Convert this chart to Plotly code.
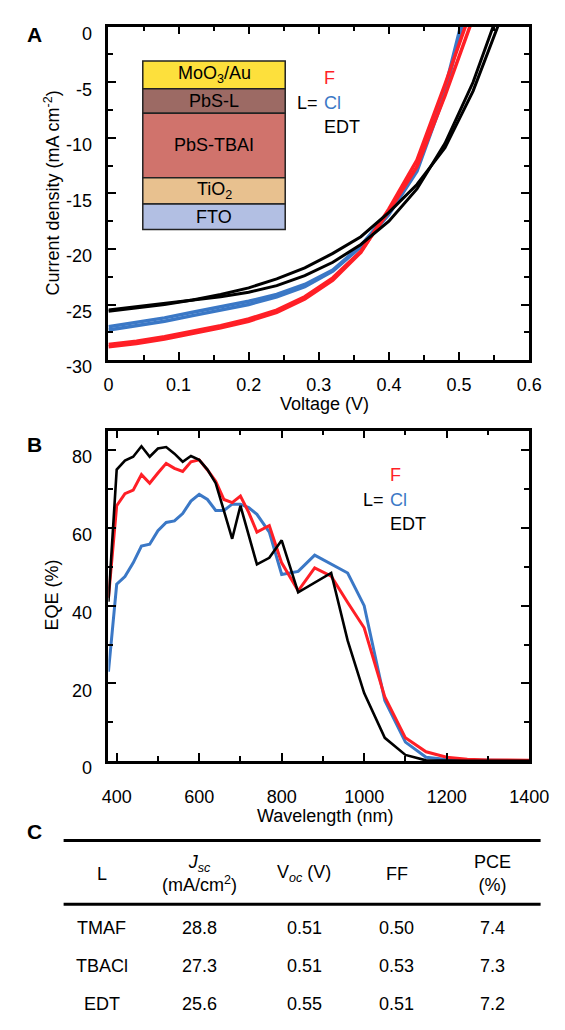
import plotly.graph_objects as go

W, H = 565, 1030
def px(x): return x / W
def py(y): return 1 - y / H

RED = "#FF1F26"
BLUE = "#3B78C6"
BLACK = "#000000"
FONT = "Liberation Sans"

# ---------------- Panel A: J-V curves ----------------
VOLT = [0.00, 0.04, 0.08, 0.12, 0.16, 0.20, 0.24, 0.28, 0.32, 0.36, 0.40, 0.44, 0.48, 0.52, 0.56]
J_F1 = [-28.8, -28.5, -28.1, -27.6, -27.1, -26.5, -25.7, -24.5, -22.8, -20.3, -16.4, -12.0, -5.2, 2.0]
J_F2 = [-28.6, -28.3, -27.9, -27.4, -26.9, -26.3, -25.5, -24.3, -22.6, -20.2, -16.6, -12.6, -6.2, 0.8]
J_CL1 = [-27.3, -26.9, -26.5, -26.0, -25.5, -25.0, -24.3, -23.4, -22.0, -19.8, -16.9, -13.0, -6.0, 4.0]
J_CL2 = [-27.0, -26.6, -26.2, -25.7, -25.2, -24.7, -24.1, -23.2, -21.9, -19.7, -16.7, -12.7, -5.6, 4.5]
J_EDT1 = [-25.6, -25.3, -25.0, -24.6, -24.1, -23.5, -22.7, -21.7, -20.4, -18.9, -16.7, -14.2, -10.9, -5.8, 0.8]
J_EDT2 = [-25.5, -25.2, -24.9, -24.6, -24.3, -23.9, -23.3, -22.4, -21.2, -19.6, -17.5, -14.6, -10.5, -5.0, 2.0]

A_X_TICKS = [0, 0.1, 0.2, 0.3, 0.4, 0.5, 0.6]
A_X_LABELS = ["0", "0.1", "0.2", "0.3", "0.4", "0.5", "0.6"]
A_X_MINOR = [0.05, 0.15, 0.25, 0.35, 0.45, 0.55]
A_Y_TICKS = [0, -5, -10, -15, -20, -25, -30]
A_Y_LABELS = ["0", "-5", "-10", "-15", "-20", "-25", "-30"]
A_Y_MINOR = [-2.5, -7.5, -12.5, -17.5, -22.5, -27.5]

# ---------------- Panel B: EQE spectra ----------------
WAVELENGTH = [380, 400, 420, 440, 460, 480, 500, 520, 540, 560, 580, 600, 620, 640, 660, 680,
              700, 720, 740, 770, 800, 840, 880, 920, 960, 1000, 1050, 1100, 1150, 1200,
              1250, 1300, 1350, 1400]
EQE_F = [42.0, 65.7, 68.8, 69.7, 73.7, 71.5, 74.1, 76.6, 75.3, 74.5, 77.0, 77.5, 74.9, 72.0, 67.3, 66.5,
         68.2, 64.0, 58.9, 60.6, 51.0, 43.8, 49.7, 47.6, 40.8, 34.3, 16.5, 6.0, 2.4, 1.0,
         0.5, 0.3, 0.3, 0.2]
EQE_CL = [23.0, 45.5, 47.5, 51.0, 55.3, 55.8, 59.3, 61.4, 61.8, 63.7, 66.9, 68.6, 67.3, 64.5, 64.5, 66.1,
          66.1, 65.2, 63.5, 58.9, 48.0, 48.8, 53.0, 50.8, 48.4, 40.0, 15.6, 4.9, 1.0, 0.4,
          0.2, 0.2, 0.1, 0.1]
EQE_EDT = [41.0, 75.0, 77.3, 78.3, 81.0, 78.3, 80.4, 80.8, 79.1, 77.0, 78.5, 77.5, 75.0, 71.5, 64.4, 57.2,
           65.7, 58.0, 50.6, 52.3, 56.8, 43.4, 45.9, 48.4, 31.0, 17.5, 6.0, 1.6, 0.2, 0.1,
           0.1, 0.1, 0.1, 0.1]

B_X_TICKS = [400, 600, 800, 1000, 1200, 1400]
B_X_LABELS = ["400", "600", "800", "1000", "1200", "1400"]
B_X_MINOR = [500, 700, 900, 1100, 1300]
B_Y_TICKS = [0, 20, 40, 60, 80]
B_Y_LABELS = ["0", "20", "40", "60", "80"]
B_Y_MINOR = [10, 30, 50, 70]

# ---------------- Panel C: table ----------------
TABLE_HEADERS = ["L", "<i>J</i><sub><i>sc</i></sub><br>(mA/cm<sup>2</sup>)", "V<sub><i>oc</i></sub> (V)", "FF", "PCE<br>(%)"]
LIGAND = ["TMAF", "TBACl", "EDT"]
JSC = ["28.8", "27.3", "25.6"]
VOC = ["0.51", "0.51", "0.55"]
FF = ["0.50", "0.53", "0.51"]
PCE = ["7.4", "7.3", "7.2"]

# Inset device stack (layer labels and colours)
LAYERS = ["MoO<sub>3</sub>/Au", "PbS-L", "PbS-TBAI", "TiO<sub>2</sub>", "FTO"]
LAYER_COLORS = ["#FDE03C", "#9C6A64", "#D0736C", "#E8C18F", "#B2BFE3"]
LAYER_EDGES_PX = [51, 79.3, 104.3, 170, 196.7, 222.7]

fig = go.Figure()

for J, c, w in [(J_CL1, BLUE, 3.5), (J_CL2, BLUE, 3.5), (J_F1, RED, 3.5), (J_F2, RED, 3.5),
                (J_EDT1, BLACK, 3.0), (J_EDT2, BLACK, 3.0)]:
    fig.add_trace(go.Scatter(x=VOLT[:len(J)], y=J, mode="lines", line=dict(color=c, width=w),
                             xaxis="x", yaxis="y", showlegend=False, hoverinfo="skip"))

for E, c, w in [(EQE_CL, BLUE, 3.0), (EQE_F, RED, 3.0), (EQE_EDT, BLACK, 2.6)]:
    fig.add_trace(go.Scatter(x=WAVELENGTH, y=E, mode="lines", line=dict(color=c, width=w),
                             xaxis="x2", yaxis="y2", showlegend=False, hoverinfo="skip"))

tickfont = dict(family=FONT, size=18, color="black")
common = dict(showline=True, linewidth=2.5, linecolor="black", mirror="allticks", ticks="inside",
              tickwidth=2, tickcolor="black", showgrid=False, zeroline=False, tickfont=tickfont,
              tickmode="array", ticklabeloverflow="allow")
minor = dict(ticklen=5, tickwidth=2, ticks="inside", tickcolor="black")

xdom = [px(99), px(540)]
fig.update_layout(
    width=W, height=H, margin=dict(l=0, r=0, t=0, b=0),
    paper_bgcolor="white", plot_bgcolor="white",
    xaxis=dict(domain=xdom, anchor="y", range=[0, 0.6], tickvals=A_X_TICKS, ticktext=A_X_LABELS,
               ticklen=8, minor=dict(tickvals=A_X_MINOR, **minor),
               ticklabelstandoff=7, **common),
    yaxis=dict(domain=[py(356), py(16)], anchor="x", range=[-30, 0], tickvals=A_Y_TICKS, ticktext=A_Y_LABELS,
               ticklen=8, minor=dict(tickvals=A_Y_MINOR, **minor),
               ticklabelstandoff=10, ticklabelshift=7, **common),
    xaxis2=dict(domain=xdom, anchor="y2", range=[380, 1400], tickvals=B_X_TICKS, ticktext=B_X_LABELS,
                ticklen=8, minor=dict(tickvals=B_X_MINOR, **minor),
                ticklabelstandoff=18, **common),
    yaxis2=dict(domain=[py(765), py(428)], anchor="x2", range=[0, 85], tickvals=B_Y_TICKS, ticktext=B_Y_LABELS,
                ticklen=8, minor=dict(tickvals=B_Y_MINOR, **minor),
                ticklabelstandoff=10, ticklabelshift=7, **common),
)

ann = []
def text(x, y, s, size=18, color="black", xa="center", ya="middle", angle=0, bold=False):
    if bold:
        s = "<b>" + s + "</b>"
    ann.append(dict(x=px(x), y=py(y), xref="paper", yref="paper", text=s, showarrow=False,
                    xanchor=xa, yanchor=ya, textangle=angle,
                    font=dict(family=FONT, size=size, color=color)))

# Panel labels
text(22, 24, "A", size=21, bold=True)
text(22, 442, "B", size=21, bold=True)
text(22, 837, "C", size=21, bold=True)

# Axis titles
text(326, 401, "Voltage (V)")
text(40, 186, "Current density (mA cm<sup>-2</sup>)", angle=-90)
text(326, 821, "Wavelength (nm)")
text(40, 596, "EQE (%)", angle=-90)

# Legends (text keys)
text(323, 68, "F", color=RED, xa="left")
text(321, 94, "L=", xa="right")
text(323, 94, "Cl", color=BLUE, xa="left")
text(323, 118, "EDT", xa="left")
text(392, 473, "F", color=RED, xa="left")
text(390, 499, "L=", xa="right")
text(392, 499, "Cl", color=BLUE, xa="left")
text(392, 523, "EDT", xa="left")

# Inset
shapes = []
for i, (lab, col) in enumerate(zip(LAYERS, LAYER_COLORS)):
    y0, y1 = LAYER_EDGES_PX[i], LAYER_EDGES_PX[i + 1]
    shapes.append(dict(type="rect", xref="paper", yref="paper", x0=px(135), x1=px(284.3),
                       y0=py(y1), y1=py(y0), fillcolor=col, line=dict(color="#222222", width=1.5)))
    text(209.7, (y0 + y1) / 2, lab, size=18)

# Table
for ly in (846, 911):
    shapes.append(dict(type="line", xref="paper", yref="paper", x0=px(52), x1=px(552), y0=py(ly), y1=py(ly),
                       line=dict(color="black", width=3)))
COL_X = [92, 194, 304, 401, 502]
for cx, h in zip(COL_X, TABLE_HEADERS):
    text(cx, 880, h, size=18)
ROW_Y = [935, 974, 1013]
for r, ry in enumerate(ROW_Y):
    for cx, vals in zip(COL_X, [LIGAND, JSC, VOC, FF, PCE]):
        text(cx, ry, vals[r], size=18)

fig.update_layout(annotations=ann, shapes=shapes)
fig.write_html("out.html")
